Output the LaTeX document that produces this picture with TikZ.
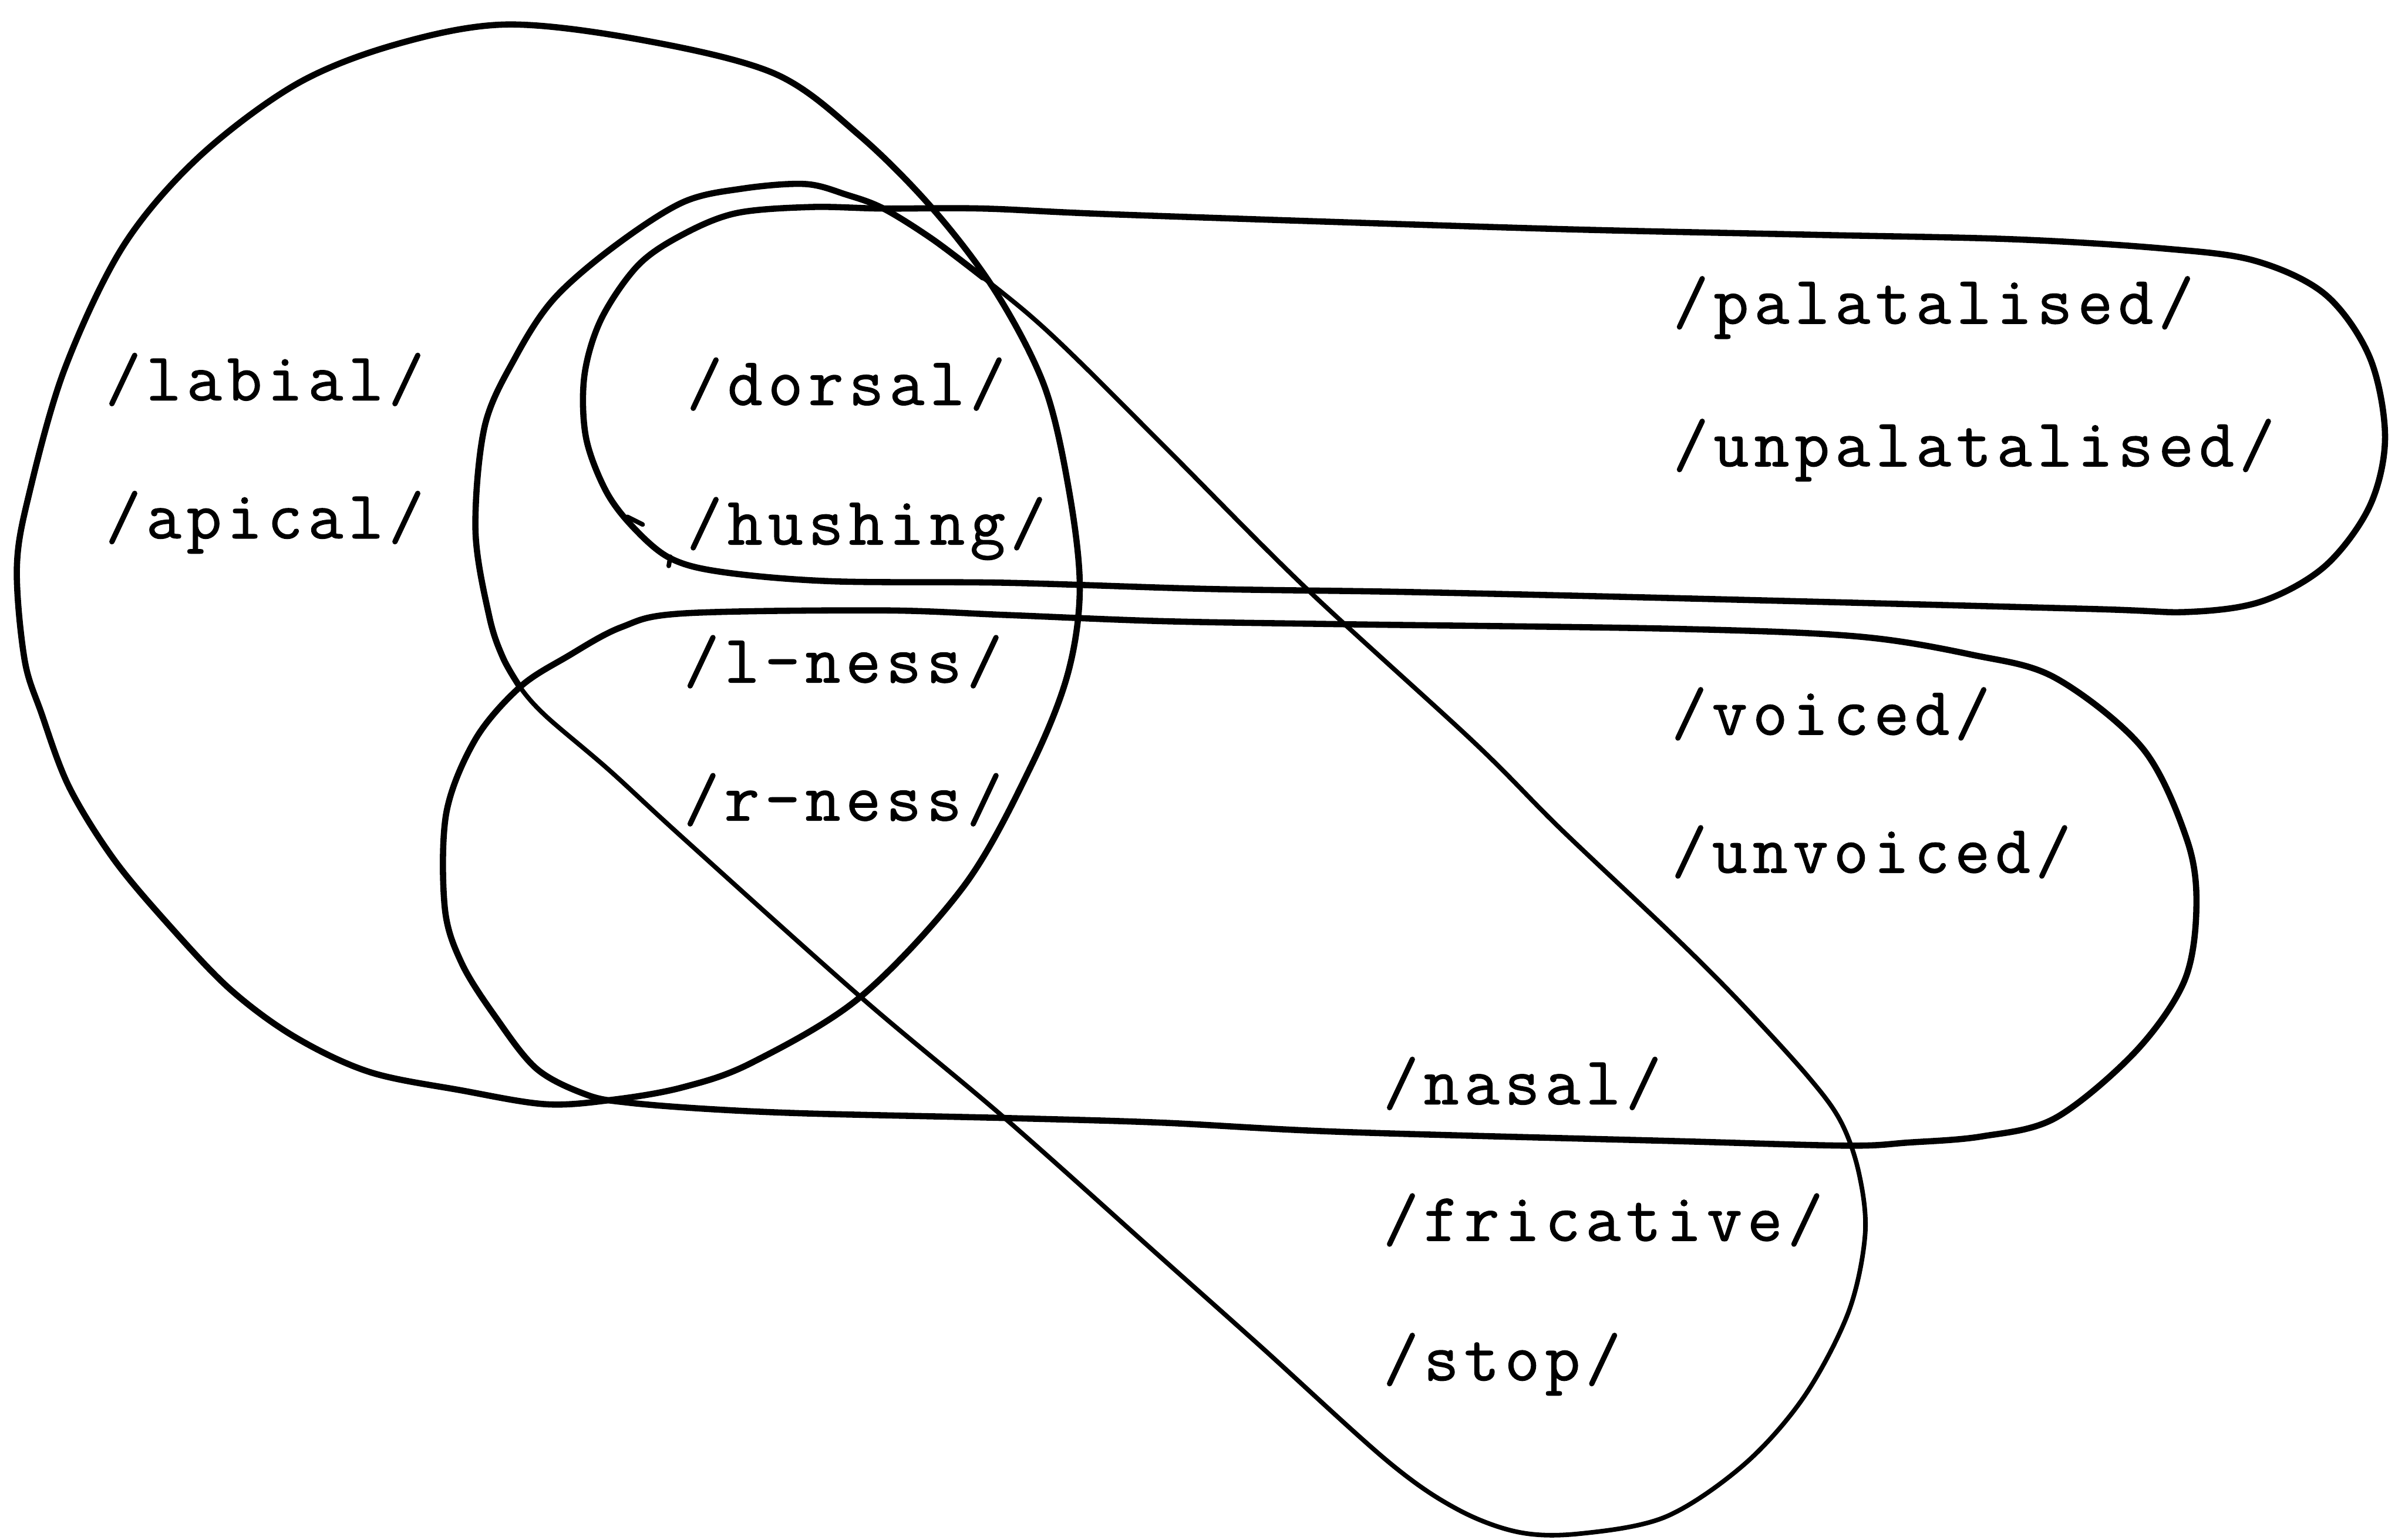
\documentclass[tikz,border=0pt]{standalone}
\usepackage{fontspec}
\setmonofont{Latin Modern Mono}[LetterSpace=8.0, FakeBold=1.2]
\begin{document}
\begin{tikzpicture}[x=0.01cm,y=-0.01cm]
\tikzset{
  outline/.style={line width=1.15pt, line join=round, line cap=round},
  thinline/.style={line width=0.85pt, line join=round, line cap=round},
  featlabel/.style={anchor=base west, inner sep=0pt, outer sep=0pt,
    font=\fontsize{12.6}{15}\selectfont\ttfamily},
}
\useasboundingbox (0,0) rectangle (1568,1004);

% place features: the large left loop
\draw[outline] plot[smooth cycle, tension=0.55] coordinates {
  (330,16) (418,26) (505,48) (560,88) (608,136) (649,190) (681,252)
  (697,320) (704,384) (696,440) (672,500) (629,577) (561,650) (490,693)
  (445,709) (400,717) (356,720) (301,711) (241,699) (192,676) (150,645)
  (110,603) (74,560) (45,513) (27,465) (16,430) (11,370) (19,322)
  (42,241) (80,161) (129,103) (193,55) (258,29)};

% palatalisation loop
\draw[outline] plot[smooth cycle, tension=0.55] coordinates {
  (480,139) (529,135) (576,136) (641,136) (732,140) (1004,149)
  (1178,153) (1312,156) (1410,162) (1470,170) (1516,192)
  (1545,233) (1555,285) (1545,330) (1516,369) (1475,392)
  (1427,399) (1361,397) (1091,390) (917,386) (787,384) (656,380)
  (542,379) (471,373) (437,364) (413,344) (395,320) (382,285)
  (381,245) (392,208) (416,173) (445,153)};
% small pen marks on the palatalisation loop
\draw[thinline] (409,337) -- (419,342);
\draw[thinline] (437,363) -- (436,369);

% voicing loop
\draw[outline] plot[smooth cycle, tension=0.55] coordinates {
  (445,400) (574,398) (656,401) (757,405) (874,407) (1091,410) (1211,415)
  (1286,427) (1340,442) (1397,488) (1426,548) (1432,592) (1424,640)
  (1392,686) (1340,729) (1292,741) (1244,745) (1204,747) (1091,744)
  (874,738) (757,732) (656,729) (526,726) (460,723) (410,719) (383,714)
  (350,697) (323,663) (301,628) (290,592) (291,530) (310,482) (339,448)
  (370,428) (405,409)};

% manner loop (diagonal)
\draw[thinline] plot[smooth cycle, tension=0.55] coordinates {
  (525,120) (552,127) (576,136) (608,156) (641,181) (673,207) (705,237)
  (765,297) (852,384) (961,484) (1017,540) (1091,610) (1134,653)
  (1178,701) (1200,731) (1212,765) (1216,805) (1205,856)
  (1176,911) (1137,955) (1086,989) (1030,1000) (990,999) (950,984)
  (905,953) (822,878) (757,820) (655,729) (561,650) (446,547)
  (397,502) (356,467) (339,448) (328,429) (319,402) (310,346) (316,278)
  (336,233) (361,195) (400,161) (445,132) (484,123)};
% heavier stroke along the upper end of the manner loop
\draw[outline] plot[smooth, tension=0.55] coordinates {
  (641,181) (608,156) (576,136) (552,127) (525,120) (484,123) (445,132)
  (400,161) (361,195) (336,233) (316,278) (310,346) (319,402) (328,429)
  (339,448)};

% feature labels
\node[featlabel] (labial)  at (69,261)   {/labial/};
\node[featlabel] (apical)  at (69,351)   {/apical/};
\node[featlabel] (dorsal)  at (448,264)  {/dorsal/};
\node[featlabel] (hushing) at (448,355)  {/hushing/};
\node[featlabel] (lness)   at (446,445)  {/l-ness/};
\node[featlabel] (rness)   at (446,535)  {/r-ness/};
\node[featlabel] (pal)     at (1091,211) {/palatalised/};
\node[featlabel] (unpal)   at (1091,304) {/unpalatalised/};
\node[featlabel] (voiced)  at (1090,479) {/voiced/};
\node[featlabel] (unvoiced) at (1090,569) {/unvoiced/};
\node[featlabel] (nasal)   at (902,720)  {/nasal/};
\node[featlabel] (fric)    at (902,809)  {/fricative/};
\node[featlabel] (stop)    at (902,900)  {/stop/};
\end{tikzpicture}
\end{document}
